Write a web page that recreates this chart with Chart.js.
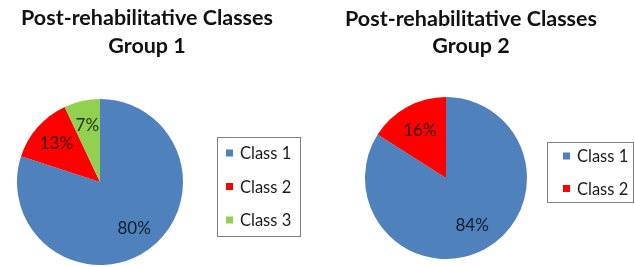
<!DOCTYPE html>
<html>
<head>
<meta charset="utf-8">
<script src="https://cdn.jsdelivr.net/npm/chart.js@4.4.1/dist/chart.umd.min.js"></script>
<style>
  html, body { margin: 0; padding: 0; background: #ffffff; overflow: hidden; }
  body { width: 635px; height: 267px; position: relative; }
  .panel { position: absolute; top: 0; height: 267px; }
  #p1 { left: 0; width: 320px; }
  #p2 { left: 320px; width: 315px; }
</style>
</head>
<body>
<div class="panel" id="p1"><canvas id="c1" width="320" height="267"></canvas></div>
<div class="panel" id="p2"><canvas id="c2" width="315" height="267"></canvas></div>
<script>
// ---- data ----
const categories1 = ['Class 1', 'Class 2', 'Class 3'];
const values1 = [80, 13, 7];
const categories2 = ['Class 1', 'Class 2'];
const values2 = [84, 16];
const titleLines1 = ['Post-rehabilitative Classes', 'Group 1'];
const titleLines2 = ['Post-rehabilitative Classes', 'Group 2'];
const sliceColors = ['#4F81BD', '#FF0000', '#92D050'];

const FONT = 'Lato, "Open Sans", sans-serif';

// Draws two-line title, percent labels on slices and a boxed legend
const panelDecor = {
  id: 'panelDecor',
  afterDatasetsDraw(chart, args, opts) {
    const ctx = chart.ctx;
    ctx.save();
    // title
    ctx.fillStyle = '#111111';
    ctx.font = 'bold ' + opts.titleSize + 'px ' + FONT;
    ctx.textAlign = 'center';
    ctx.textBaseline = 'alphabetic';
    opts.titleLines.forEach((t, i) => ctx.fillText(t, opts.titleX, opts.titleY[i]));

    // slice labels
    const meta = chart.getDatasetMeta(0);
    const data = chart.data.datasets[0].data;
    ctx.font = opts.labelSize + 'px ' + FONT;
    ctx.fillStyle = 'rgba(0,0,0,0.78)';
    ctx.textBaseline = 'middle';
    meta.data.forEach((arc, i) => {
      const p = arc.getProps(['x', 'y', 'startAngle', 'endAngle', 'outerRadius'], true);
      const mid = (p.startAngle + p.endAngle) / 2;
      const r = p.outerRadius * opts.labelFrac;
      ctx.fillText(data[i] + '%', p.x + Math.cos(mid) * r, p.y + Math.sin(mid) * r);
    });

    // legend box
    const L = opts.legend;
    ctx.strokeStyle = '#808080';
    ctx.lineWidth = 1;
    ctx.strokeRect(L.left + 0.5, L.top + 0.5, L.right - L.left, L.bottom - L.top);
    ctx.font = opts.legendSize + 'px ' + FONT;
    ctx.textAlign = 'left';
    ctx.textBaseline = 'middle';
    chart.data.labels.forEach((lab, i) => {
      const cy = L.firstY + i * L.gap;
      ctx.fillStyle = chart.data.datasets[0].backgroundColor[i];
      ctx.fillRect(L.markerX, cy - L.marker / 2, L.marker, L.marker);
      ctx.fillStyle = '#1a1a1a';
      ctx.fillText(lab, L.textX, cy + 1);
    });
    ctx.restore();
  }
};

function makePie(id, labels, values, padding, decor) {
  return new Chart(document.getElementById(id), {
    type: 'pie',
    data: {
      labels: labels,
      datasets: [{
        data: values,
        backgroundColor: sliceColors.slice(0, values.length),
        borderWidth: 0,
        hoverOffset: 0
      }]
    },
    options: {
      responsive: false,
      animation: false,
      events: [],
      layout: { padding: padding },
      plugins: {
        legend: { display: false },
        title: { display: false },
        tooltip: { enabled: false },
        panelDecor: decor
      }
    },
    plugins: [panelDecor]
  });
}

makePie('c1', categories1, values1,
  { left: 17, right: 137, top: 99, bottom: 2 },
  {
    titleLines: titleLines1, titleX: 147, titleY: [25, 53], titleSize: 21.5,
    labelSize: 17, labelFrac: 0.7, legendSize: 16.5,
    legend: { left: 217, top: 137, right: 300, bottom: 236, markerX: 226, marker: 7, textX: 240, firstY: 153, gap: 33.5 }
  });

makePie('c2', categories2, values2,
  { left: 45, right: 108, top: 97, bottom: 8 },
  {
    titleLines: titleLines2, titleX: 151, titleY: [25.5, 53], titleSize: 21.5,
    labelSize: 17, labelFrac: 0.67, legendSize: 16.5,
    legend: { left: 227, top: 142, right: 313, bottom: 202, markerX: 243, marker: 7, textX: 257, firstY: 156, gap: 32.5 }
  });
</script>
</body>
</html>
